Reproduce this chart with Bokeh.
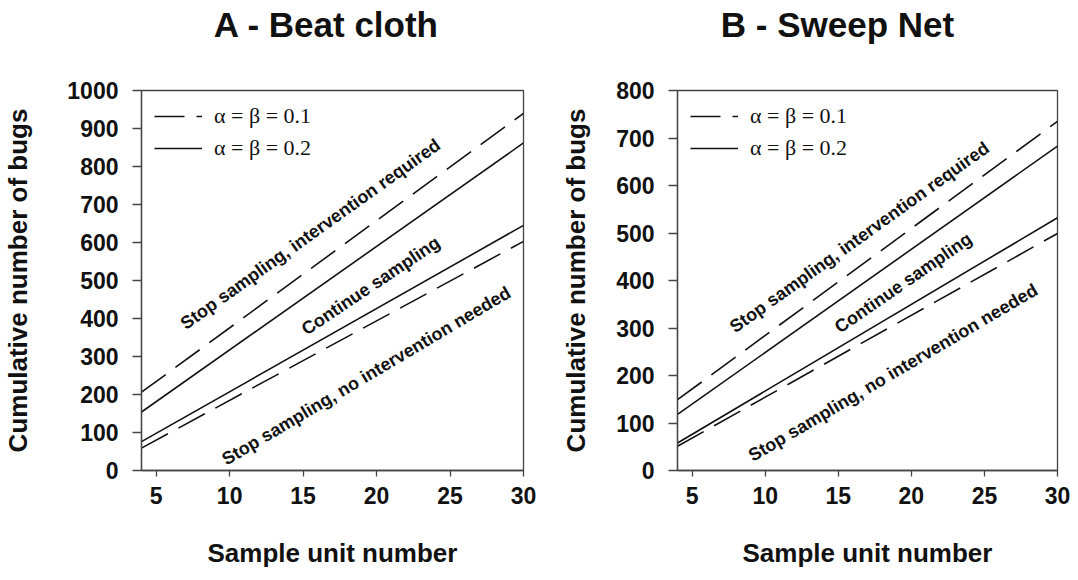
from bokeh.plotting import figure
from bokeh.models import Legend, LegendItem, Range1d, FixedTicker, Label
from bokeh.layouts import row, column
from bokeh.embed import file_html
from bokeh.resources import INLINE

# ---------------- data ----------------
sample_units = [4, 30]
x_ticks = [5, 10, 15, 20, 25, 30]

# Panel A - Beat cloth
a_upper_01 = [206, 940]   # dashed, alpha = beta = 0.1
a_upper_02 = [154, 862]   # solid, alpha = beta = 0.2
a_lower_02 = [76, 645]    # solid
a_lower_01 = [59, 603]    # dashed
a_yticks = [0, 100, 200, 300, 400, 500, 600, 700, 800, 900, 1000]

# Panel B - Sweep Net
b_upper_01 = [149, 735]
b_upper_02 = [118, 683]
b_lower_02 = [58, 532]
b_lower_01 = [51, 499]
b_yticks = [0, 100, 200, 300, 400, 500, 600, 700, 800]

panel_titles = ["A - Beat cloth", "B - Sweep Net"]
legend_labels = ["α = β = 0.1", "α = β = 0.2"]
region_labels = ["Stop sampling, intervention required", "Continue sampling",
                 "Stop sampling, no intervention needed"]

SANS = "Liberation Sans"
DASH = "30 12"
LINE_COLOR = "#111111"
FRAME_COLOR = "#444444"
TITLE_H = 72


def make_title(text, width, cx):
    t = figure(output_backend="svg", toolbar_location=None, width=width, height=TITLE_H,
               min_border=0, x_range=Range1d(0, width), y_range=Range1d(0, TITLE_H))
    t.axis.visible = False
    t.grid.visible = False
    t.outline_line_color = None
    t.add_layout(Label(x=cx, y=TITLE_H - 24, text=text,
                       text_align="center", text_baseline="middle",
                       text_font=SANS, text_font_style="bold",
                       text_font_size="35px", text_color="#111111"))
    return t


def make_panel(upper01, upper02, lower02, lower01, yticks, ymax,
               width, height, border_left, border_right, border_top, border_bottom,
               ylabel_standoff, label_specs):
    p = figure(
        output_backend="svg", toolbar_location=None,
        width=width, height=height,
        min_border_left=border_left, min_border_right=border_right,
        min_border_top=border_top, min_border_bottom=border_bottom,
        x_range=Range1d(4, 30), y_range=Range1d(0, ymax),
    )
    p.xgrid.visible = False
    p.ygrid.visible = False
    p.background_fill_color = "white"
    p.border_fill_color = "white"
    p.outline_line_color = FRAME_COLOR
    p.outline_line_width = 1.3

    p.xaxis.ticker = FixedTicker(ticks=x_ticks)
    p.yaxis.ticker = FixedTicker(ticks=yticks)
    for ax in (p.xaxis[0], p.yaxis[0]):
        ax.axis_line_color = FRAME_COLOR
        ax.axis_line_width = 1.3
        ax.major_tick_line_color = FRAME_COLOR
        ax.major_tick_line_width = 1.3
        ax.major_tick_in = 0
        ax.minor_tick_line_color = None
        ax.major_label_text_font = SANS
        ax.major_label_text_font_style = "bold"
        ax.major_label_text_font_size = "23px"
        ax.major_label_text_color = "#111111"
        ax.axis_label_text_font = SANS
        ax.axis_label_text_font_style = "bold"
        ax.axis_label_text_font_size = "26px"
        ax.axis_label_text_color = "#111111"
    p.xaxis.major_tick_out = 6
    p.yaxis.major_tick_out = 9
    p.xaxis.major_label_standoff = 10
    p.yaxis.major_label_standoff = 14
    p.xaxis.axis_label = "Sample unit number"
    p.yaxis.axis_label = "Cumulative number of bugs"
    p.xaxis.axis_label_standoff = 31
    p.yaxis.axis_label_standoff = ylabel_standoff

    r1 = p.line(sample_units, upper01, line_color=LINE_COLOR, line_width=1.6, line_dash=DASH)
    r2 = p.line(sample_units, upper02, line_color=LINE_COLOR, line_width=1.6)
    r3 = p.line(sample_units, lower02, line_color=LINE_COLOR, line_width=1.6)
    r4 = p.line(sample_units, lower01, line_color=LINE_COLOR, line_width=1.6, line_dash=DASH)

    legend = Legend(
        items=[LegendItem(label=legend_labels[0], renderers=[r1]),
               LegendItem(label=legend_labels[1], renderers=[r2])],
        location="top_left",
        label_text_font="Liberation Serif",
        label_text_font_size="22px",
        label_text_color="#111111",
        glyph_width=48, glyph_height=20,
        label_standoff=12, label_height=24, spacing=6,
        margin=3, padding=10,
        background_fill_alpha=0, border_line_alpha=0,
    )
    p.add_layout(legend)

    for text, (lx, ly, ang) in zip(region_labels, label_specs):
        p.add_layout(Label(x=lx, y=ly, text=text, angle=ang, angle_units="deg",
                           text_align="center", text_baseline="middle",
                           text_font=SANS, text_font_style="bold",
                           text_font_size="18px", text_color="#111111"))
    return p


ta = make_title(panel_titles[0], 558, 326)
tb = make_title(panel_titles[1], 512, 279)

pa = make_panel(a_upper_01, a_upper_02, a_lower_02, a_lower_01,
                a_yticks, 1000, 558, 498, 140, 35, 15, 99, 31,
                [(15.5, 622, 35.5), (19.6, 486, 33.8), (19.3, 249, 30.7)])
pb = make_panel(b_upper_01, b_upper_02, b_lower_02, b_lower_01,
                b_yticks, 800, 512, 498, 117, 13, 18, 97, 22,
                [(16.45, 491, 35.6), (19.45, 395, 34.6), (18.75, 206, 30.5)])

layout = column(row(ta, tb), row(pa, pb))
open("out.html", "w").write(file_html(layout, INLINE))
